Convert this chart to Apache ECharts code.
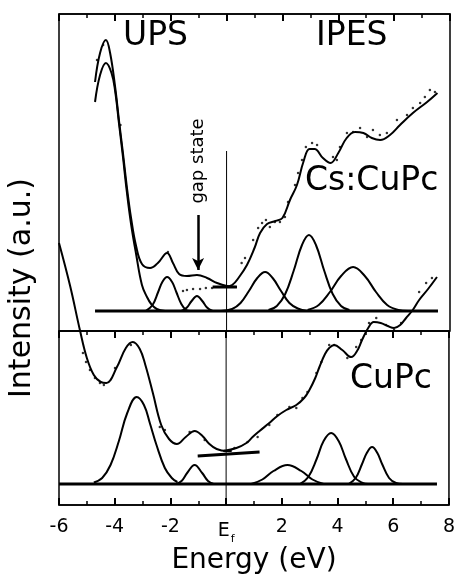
<!DOCTYPE html>
<html>
<head>
<meta charset="utf-8">
<script src="https://cdn.jsdelivr.net/npm/echarts@6/dist/echarts.min.js"></script>
<style>
    html, body { margin: 0; padding: 0; background: #fff; }
    #chart { width: 458px; height: 580px; }
</style>
</head>
<body>
<div id="chart"></div>
<script>
// energy axis (eV), 0 = Fermi level
const energyMin = -6;
const energyMax = 8;
const energyStep = 2;

// ---- Cs:CuPc (upper panel), [energy, intensity] ----
const csUpsFit = [[-4.71,22.9],[-4.53,25.8],[-4.32,27.1],[-4.17,25.8],[-3.99,22.4],[-3.85,19.0],[-3.71,15.8],[-3.57,12.4],[-3.42,9.3],[-3.24,6.5],[-3.03,4.7],[-2.74,4.3],[-2.46,4.8],[-2.13,5.8],[-1.92,4.8],[-1.7,3.7],[-1.42,3.5],[-1.06,3.6],[-0.7,3.3],[-0.34,2.8],[0.01,2.5],[0.37,2.4]];
const csUpsPeakA = [[-4.71,20.9],[-4.53,23.6],[-4.32,24.8],[-4.12,23.8],[-3.99,22.0],[-3.85,18.7],[-3.71,15.4],[-3.57,11.9],[-3.42,8.7],[-3.24,5.7],[-3.03,2.6],[-2.85,1.4],[-2.7,0.7],[-2.5,0.2],[-2.2,0]];
const csUpsPeakB = [[-2.9,0],[-2.65,0.6],[-2.45,1.9],[-2.3,2.9],[-2.13,3.4],[-1.95,2.9],[-1.8,1.9],[-1.62,0.7],[-1.45,0.1],[-1.3,0]];
const csGapPeak = [[-1.62,0],[-1.42,0.35],[-1.25,1.0],[-1.06,1.5],[-0.87,1.0],[-0.7,0.35],[-0.5,0]];
const csIpesFit = [[-0.1,2.4],[0.2,2.6],[0.45,3.4],[0.73,4.6],[1.0,6.3],[1.2,7.8],[1.45,8.7],[1.75,9.0],[2.0,9.3],[2.27,11.1],[2.52,12.6],[2.75,14.9],[2.97,16.2],[3.15,16.2],[3.45,15.3],[3.72,14.8],[4.0,15.8],[4.3,17.3],[4.6,17.9],[4.9,17.8],[5.2,17.3],[5.5,17.1],[5.85,17.6],[6.21,18.6],[6.67,19.8],[7.18,20.9],[7.55,21.8]];
const csIpesPeakA = [[-0.2,0],[0.2,0.2],[0.5,0.8],[0.8,2.0],[1.1,3.3],[1.38,3.9],[1.65,3.3],[1.95,2.0],[2.25,0.8],[2.55,0.25],[2.9,0]];
const csIpesPeakB = [[1.5,0.1],[1.8,0.5],[2.1,1.7],[2.4,4.0],[2.7,6.6],[2.95,7.6],[3.2,6.6],[3.5,4.0],[3.8,1.7],[4.1,0.5],[4.4,0.1]];
const csIpesPeakC = [[2.9,0.1],[3.3,0.6],[3.7,1.9],[4.1,3.5],[4.53,4.4],[4.95,3.5],[5.35,1.9],[5.75,0.6],[6.15,0.1],[6.5,0]];
const csBaseline = [[-4.71,0],[7.57,0]];
const csOnset = [[-0.5,2.4],[0.37,2.4]];
const csDots = [[-4.64,25.1],[-4.42,26.6],[-3.8,18.6],[-2.1,5.9],[-1.56,2.0],[-1.42,2.1],[-1.2,2.2],[-0.95,2.2],[-0.74,2.3],[-0.52,2.3],
    [0.54,4.8],[0.66,5.3],[0.95,7.1],[1.13,8.3],[1.27,8.8],[1.41,9.1],[1.55,8.4],[1.73,8.9],[1.91,8.9],[2.09,9.4],[2.2,10.9],[2.45,12.6],[2.56,13.8],[2.7,15.1],[2.84,16.4],[3.06,16.8],[3.24,16.6],
    [3.81,15.4],[3.95,15.1],[4.06,16.4],[4.31,17.8],[4.53,17.9],[4.78,18.3],[5.03,17.4],[5.24,18.1],[5.49,17.6],[5.74,17.8],[6.1,19.1],[6.46,19.6],[6.67,20.3],[6.93,20.8],[7.1,21.4],[7.28,22.1],[7.46,21.9]];
const csFermi = [[0,16.0],[0,-2]];
const gapArrow = { energy: -1.02, from: 9.6, to: 4.1 };

// ---- CuPc (lower panel) ----
const cuUpsFit = [[-6,24.1],[-5.6,19.8],[-5.25,15.4],[-5.0,12.6],[-4.75,10.9],[-4.5,10.2],[-4.3,10.1],[-3.92,11.7],[-3.6,13.6],[-3.35,14.2],[-3.1,13.5],[-2.9,11.9],[-2.63,9.1],[-2.33,5.9],[-2.05,4.5],[-1.77,4.0],[-1.45,4.7],[-1.13,5.3],[-0.85,4.8],[-0.6,4.0],[-0.34,3.5],[0,3.3],[0.2,3.3]];
const cuUpsPeakA = [[-4.75,0.15],[-4.45,0.6],[-4.15,1.9],[-3.85,4.3],[-3.55,7.1],[-3.21,8.7],[-2.95,7.9],[-2.74,6.1],[-2.5,3.9],[-2.2,1.6],[-1.95,0.6],[-1.75,0.2]];
const cuUpsPeakB = [[-1.8,0],[-1.6,0.3],[-1.4,1.1],[-1.13,1.9],[-0.86,1.1],[-0.65,0.3],[-0.45,0]];
const cuIpesFit = [[-0.1,3.3],[0.37,3.6],[0.73,4.1],[0.95,4.7],[1.2,5.3],[1.55,6.1],[1.84,6.8],[2.16,7.4],[2.52,7.9],[2.8,8.6],[2.99,9.4],[3.2,10.6],[3.35,11.7],[3.55,13.0],[3.7,13.6],[3.88,13.9],[4.17,13.4],[4.49,12.7],[4.7,13.3],[4.88,14.4],[5.1,15.6],[5.3,16.2],[5.55,16.1],[5.8,15.8],[6.03,15.6],[6.25,15.9],[6.46,16.6],[6.7,17.4],[6.93,18.4],[7.25,19.5],[7.57,20.7]];
const cuIpesPeakA = [[0.9,0],[1.3,0.45],[1.7,1.3],[2.2,1.9],[2.7,1.3],[3.1,0.45],[3.5,0]];
const cuIpesPeakB = [[2.65,0],[2.95,0.7],[3.25,2.5],[3.5,4.3],[3.77,5.1],[4.04,4.3],[4.3,2.5],[4.6,0.7],[4.9,0.1],[5.1,0]];
const cuIpesPeakC = [[4.4,0],[4.65,0.6],[4.88,2.0],[5.05,3.1],[5.24,3.7],[5.43,3.1],[5.6,2.0],[5.85,0.6],[6.1,0.1],[6.35,0]];
const cuBaseline = [[-6,0],[7.57,0]];
const cuOnset = [[-1.02,2.8],[1.2,3.2]];
const cuDots = [[-5.14,13.1],[-5.03,12.2],[-4.89,11.4],[-4.71,10.6],[-4.53,10.1],[-4.39,9.9],[-3.99,11.6],[-3.42,13.9],[-2.38,5.7],[-2.2,5.4],[-1.31,5.2],[-0.77,4.4],[-0.06,3.3],
    [0.3,3.6],[0.77,4.2],[1.13,4.7],[1.55,5.9],[1.84,6.9],[2.27,7.7],[2.52,7.6],[2.74,8.6],[2.92,9.2],[3.24,11.1],[3.42,12.2],[3.7,13.9],[3.88,13.9],[4.35,12.6],[4.67,13.7],[4.85,14.4],
    [5.13,16.1],[5.39,16.6],[5.74,15.9],[6.03,15.4],[6.28,16.1],[6.93,19.2],[7.18,20.1],[7.39,20.6]];
const cuFermi = [[0,15.3],[0,-2.1]];

// panel texts
const panelTexts = [
    { text: 'UPS', x: 123, y: 36 },
    { text: 'IPES', x: 316, y: 36 },
    { text: 'Cs:CuPc', x: 305, y: 181 },
    { text: 'CuPc', x: 350, y: 379 }
];

const font = '"DejaVu Sans", "Liberation Sans", sans-serif';
const ink = '#000';

const chart = echarts.init(document.getElementById('chart'));

function curve(data, grid, width) {
    return {
        type: 'line',
        xAxisIndex: grid === 0 ? 0 : 1,
        yAxisIndex: grid,
        data: data,
        smooth: 0.4,
        symbol: 'none',
        clip: false,
        silent: true,
        lineStyle: { color: ink, width: width || 2 }
    };
}

function dots(data, grid) {
    return {
        type: 'scatter',
        xAxisIndex: grid === 0 ? 0 : 1,
        yAxisIndex: grid,
        data: data,
        symbolSize: 2.5,
        clip: false,
        silent: true,
        itemStyle: { color: ink }
    };
}

function straight(data, grid, width) {
    const s = curve(data, grid, width);
    s.smooth = false;
    return s;
}

// energy axis with inward ticks; labels left on (empty) for the frame axes
function energyAxis(gridIndex, extra) {
    return Object.assign({
        type: 'value',
        gridIndex: gridIndex,
        min: energyMin,
        max: energyMax,
        interval: energyStep,
        axisLine: { show: true, onZero: false, lineStyle: { color: ink, width: 1.5 } },
        axisTick: { show: true, inside: true, length: 7, lineStyle: { color: ink, width: 2 } },
        minorTick: { show: true, splitNumber: 2, length: 4, lineStyle: { color: ink, width: 1.5 } },
        axisLabel: { show: true, formatter: function () { return ''; } },
        splitLine: { show: false }
    }, extra || {});
}

// y axes only carry the scale; the grid border draws the frame
function frameAxis(gridIndex, min, max) {
    return {
        type: 'value',
        gridIndex: gridIndex,
        min: min,
        max: max,
        axisLine: { show: false },
        axisTick: { show: false },
        axisLabel: { show: false },
        splitLine: { show: false }
    };
}

const gapSeries = curve(csGapPeak, 0);
gapSeries.markLine = {
    silent: true,
    symbol: ['none', 'arrow'],
    symbolSize: [9, 12],
    label: { show: false },
    lineStyle: { color: ink, width: 2.5, type: 'solid' },
    data: [[
        { coord: [gapArrow.energy, gapArrow.from] },
        { coord: [gapArrow.energy, gapArrow.to] }
    ]]
};

const option = {
    animation: false,
    grid: [
        { left: 59, right: 8, top: 14, height: 317, show: true, borderColor: ink, borderWidth: 1.5 },
        { left: 59, right: 8, top: 331, height: 174, show: true, borderColor: ink, borderWidth: 1.5 }
    ],
    xAxis: [
        energyAxis(0, { position: 'top' }),
        energyAxis(1, {
            name: 'Energy (eV)',
            nameLocation: 'middle',
            nameGap: 42,
            nameTextStyle: { fontSize: 28, fontFamily: font, color: ink },
            axisLabel: {
                show: true,
                margin: 13,
                fontSize: 19,
                fontFamily: font,
                color: ink,
                formatter: function (v) {
                    return v === 0 ? '{e|E}{f|f}' : String(v);
                },
                rich: {
                    e: { fontSize: 19, fontFamily: font, color: ink },
                    f: { fontSize: 11, fontFamily: font, color: ink, padding: [16, 0, 0, 1] }
                }
            }
        }),
        energyAxis(1, { position: 'top' })
    ],
    yAxis: [
        frameAxis(0, -2, 29.7),
        frameAxis(1, -2.1, 15.3)
    ],
    series: [
        straight(csFermi, 0, 1),
        straight(cuFermi, 1, 1),
        straight(csBaseline, 0, 3),
        straight(cuBaseline, 1, 3),
        curve(csUpsFit, 0),
        curve(csUpsPeakA, 0),
        curve(csUpsPeakB, 0),
        gapSeries,
        curve(csIpesFit, 0),
        curve(csIpesPeakA, 0),
        curve(csIpesPeakB, 0),
        curve(csIpesPeakC, 0),
        straight(csOnset, 0, 3),
        dots(csDots, 0),
        curve(cuUpsFit, 1),
        curve(cuUpsPeakA, 1),
        curve(cuUpsPeakB, 1),
        curve(cuIpesFit, 1),
        curve(cuIpesPeakA, 1),
        curve(cuIpesPeakB, 1),
        curve(cuIpesPeakC, 1),
        straight(cuOnset, 1, 3),
        dots(cuDots, 1)
    ],
    graphic: panelTexts.map(function (t) {
        return {
            type: 'text', x: t.x, y: t.y, silent: true,
            style: { text: t.text, font: '33px ' + font, fill: ink, textAlign: 'left', textVerticalAlign: 'middle' }
        };
    }).concat([
        {
            type: 'text', x: 198, y: 161, rotation: Math.PI / 2, silent: true,
            style: { text: 'gap state', font: '18px ' + font, fill: ink, textAlign: 'center', textVerticalAlign: 'middle' }
        },
        {
            type: 'text', x: 22, y: 288, rotation: Math.PI / 2, silent: true,
            style: { text: 'Intensity (a.u.)', font: '30px ' + font, fill: ink, textAlign: 'center', textVerticalAlign: 'middle' }
        }
    ])
};

chart.setOption(option);
</script>
</body>
</html>
